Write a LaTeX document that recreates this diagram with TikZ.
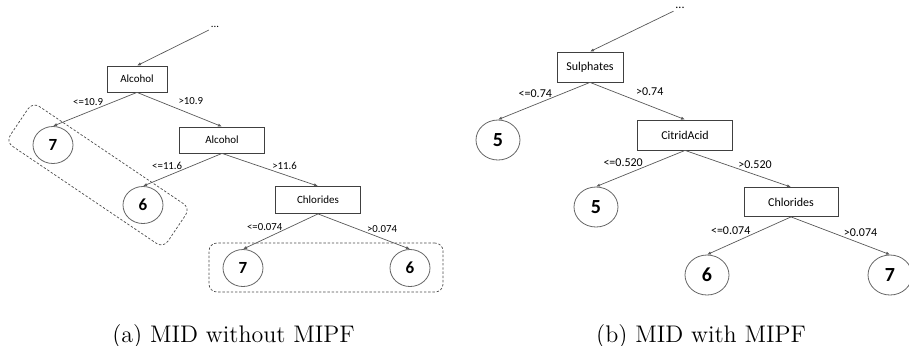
\documentclass[tikz,border=0pt]{standalone}
\usepackage{amsmath}
\usepackage{fontspec}
\usepackage{tikz}
\usetikzlibrary{arrows.meta,shapes.geometric}
\newfontfamily\calfont{Carlito}

\begin{document}
\begin{tikzpicture}[x=0.5pt,y=-0.5pt,
	split/.style={draw=black!75,line width=0.4pt,rectangle,inner sep=0pt},
	splitA/.style={split,font=\calfont\fontsize{5.5}{6}\selectfont,minimum height=13pt},
	splitB/.style={split,font=\calfont\fontsize{6}{7}\selectfont,minimum height=15pt},
	leafA/.style={draw=black!60,line width=0.4pt,ellipse,inner sep=0pt,font=\calfont\bfseries\fontsize{8.5}{9}\selectfont,minimum width=20pt,minimum height=18.5pt},
	leafB/.style={draw=black!60,line width=0.4pt,ellipse,inner sep=0pt,font=\calfont\bfseries\fontsize{10}{11}\selectfont,minimum width=22pt,minimum height=20pt},
	condA/.style={font=\calfont\fontsize{5.4}{6}\selectfont,inner sep=0pt},
	condB/.style={font=\calfont\fontsize{6}{7}\selectfont,inner sep=0pt},
	branch/.style={draw=black!65,line width=0.35pt,-{Latex[length=2pt,width=1.6pt]}},
	group/.style={draw=black!70,line width=0.35pt,dash pattern=on 1.2pt off 0.9pt,rounded corners=4pt,inner sep=0pt}]
	\useasboundingbox (0,0) rectangle (909,345);

	\node[condA,inner sep=1pt] (dotsA) at (215,27) {...};
	\node[splitA,minimum width=30pt] (alcA) at (137,79) {Alcohol};
	\node[leafA] (sevA) at (53,145) {7};
	\node[splitA,minimum width=42.5pt] (alcB) at (222,140) {Alcohol};
	\node[leafA] (sixA) at (143,205) {6};
	\node[splitA,minimum width=42.5pt,minimum height=13.5pt] (chlA) at (318,200) {Chlorides};
	\node[leafA] (sevB) at (243,268) {7};
	\node[leafA] (sixB) at (410,268) {6};
	\node[group,rotate=-34,minimum width=95pt,minimum height=24pt] (grpA) at (98,175) {};
	\node[group,minimum width=117pt,minimum height=24.5pt] (grpB) at (326,267.5) {};

	\draw[branch] (dotsA) -- (alcA.north);
	\draw[branch] (alcA.south) -- node[condA,pos=0.4,anchor=south east] {<=10.9} (sevA.north);
	\draw[branch] (alcA.south) -- node[condA,pos=0.45,above right,inner sep=1.5pt] {>10.9} (alcB.north);
	\draw[branch] (alcB.south) -- node[condA,pos=0.5,anchor=south east] {<=11.6} (sixA.north);
	\draw[branch] (alcB.south) -- node[condA,pos=0.52,anchor=south west] {>11.6} (chlA.north);
	\draw[branch] (chlA.south) -- node[condA,pos=0.47,anchor=south east] {<=0.074} (sevB.north);
	\draw[branch] (chlA.south) -- node[condA,pos=0.53,anchor=south west] {>0.074} (sixB.north);

	\node[condB,inner sep=1pt] (dotsB) at (680,8) {...};
	\node[splitB,minimum width=33pt] (sul) at (590,67) {Sulphates};
	\node[leafB] (fivA) at (498,140) {5};
	\node[splitB,minimum width=47.5pt] (cit) at (685,135) {CitridAcid};
	\node[leafB] (fivB) at (596,207) {5};
	\node[splitB,minimum width=47pt,minimum height=14.5pt] (chlB) at (791,202) {Chlorides};
	\node[leafB] (sixC) at (707,275) {6};
	\node[leafB] (sevC) at (890,275) {7};

	\draw[branch] (dotsB) -- (sul.north);
	\draw[branch] (sul.south) -- node[condB,pos=0.41,anchor=south east] {<=0.74} (fivA.north);
	\draw[branch] (sul.south) -- node[condB,pos=0.45,above right,inner sep=1.5pt] {>0.74} (cit.north);
	\draw[branch] (cit.south) -- node[condB,pos=0.47,anchor=south east] {<=0.520} (fivB.north);
	\draw[branch] (cit.south) -- node[condB,pos=0.5,anchor=south west] {>0.520} (chlB.north);
	\draw[branch] (chlB.south) -- node[condB,pos=0.48,anchor=south east] {<=0.074} (sixC.north);
	\draw[branch] (chlB.south) -- node[condB,pos=0.53,anchor=south west] {>0.074} (sevC.north);

	\node[anchor=base,font=\fontsize{12}{14}\selectfont] (capA) at (233.5,342) {(a) MID without MIPF};
	\node[anchor=base,font=\fontsize{12}{14}\selectfont] (capB) at (701,342) {(b) MID with MIPF};
\end{tikzpicture}
\end{document}
